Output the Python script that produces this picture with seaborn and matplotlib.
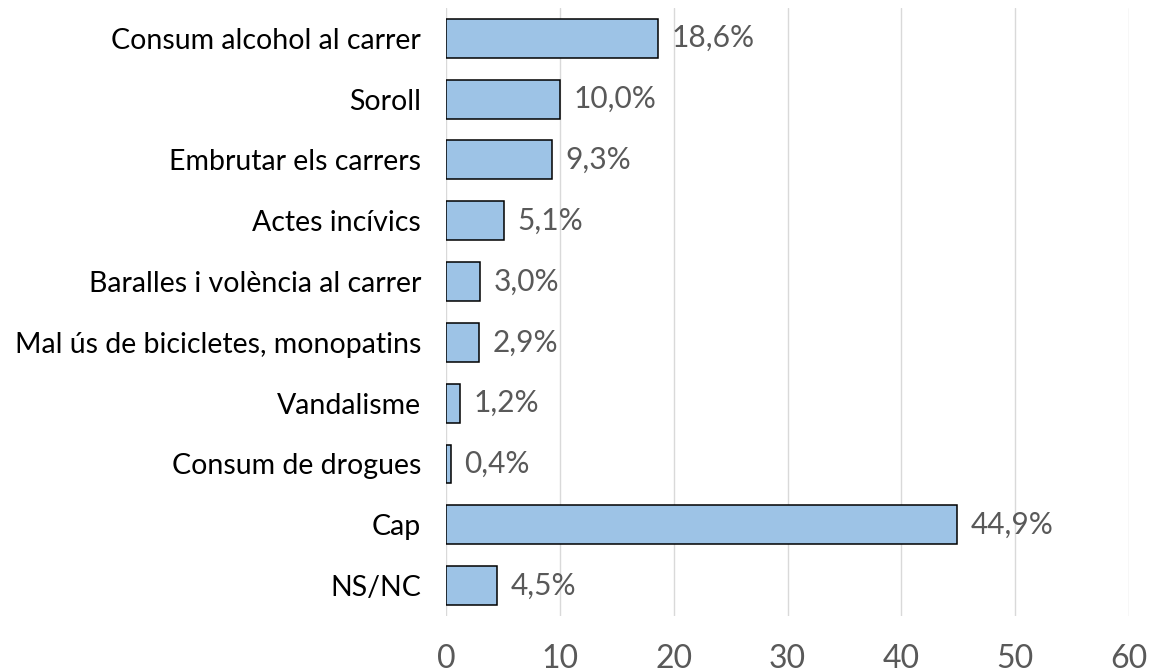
import pandas as pd
import numpy as np
import matplotlib
matplotlib.use('Agg')
import matplotlib.pyplot as plt
import seaborn as sns

categories = ['Consum alcohol al carrer', 'Soroll', 'Embrutar els carrers',
              'Actes incívics', 'Baralles i volència al carrer',
              'Mal ús de bicicletes, monopatins', 'Vandalisme',
              'Consum de drogues', 'Cap', 'NS/NC']
values = [18.6, 10.0, 9.3, 5.1, 3.0, 2.9, 1.2, 0.4, 44.9, 4.5]
xticks = [0, 10, 20, 30, 40, 50, 60]

df = pd.DataFrame({'cat': categories, 'val': values})

sns.set_theme(style='white')
plt.rcParams['font.family'] = ['Lato', 'DejaVu Sans']

fig = plt.figure(figsize=(11.51, 6.72), dpi=100)
ax = fig.add_axes([0.3875, 0.0833, 0.5935, 0.905])

sns.barplot(data=df, x='val', y='cat', orient='h', color='#9DC3E6',
            saturation=1, edgecolor='black', linewidth=1.1, width=0.64, ax=ax)

# value labels, comma decimal
for i, v in enumerate(values):
    ax.text(v + 1.2, i, f'{v:.1f}%'.replace('.', ','), va='center', ha='left',
            fontsize=21.5, color='#595959')

ax.set_xlim(0, 60)
ax.set_ylim(9.5, -0.5)
ax.set_xticks(xticks)
ax.set_xticklabels([str(t) for t in xticks])
ax.xaxis.grid(True, color='#D9D9D9', linewidth=1)
ax.set_axisbelow(True)
for s in ax.spines.values():
    s.set_visible(False)
ax.tick_params(axis='x', length=0, pad=20, labelsize=23, labelcolor='#595959')
ax.tick_params(axis='y', length=0, pad=18, labelsize=20.5, labelcolor='black')
ax.set_xlabel('')
ax.set_ylabel('')

fig.savefig('out.png', dpi=100)
